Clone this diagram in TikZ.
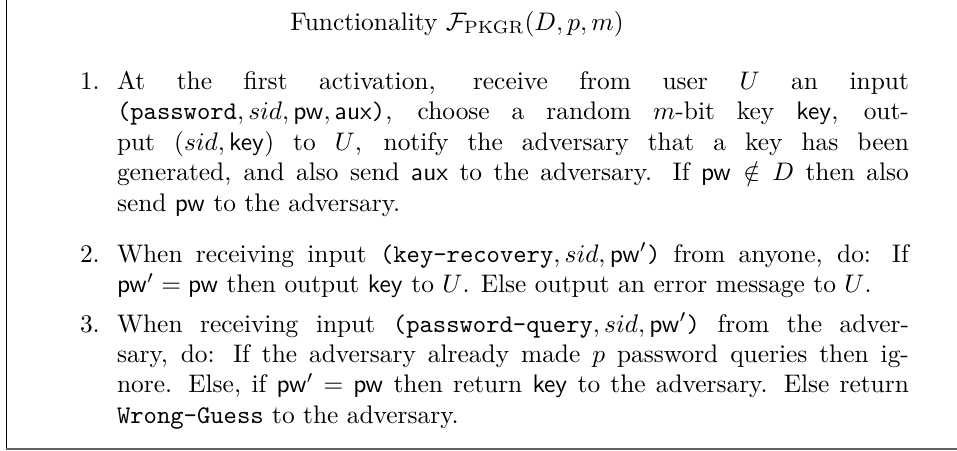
\documentclass[tikz,border=0pt]{standalone}
\begin{document}
\begin{tikzpicture}[x=0.3937pt,y=-0.3937pt,
  every node/.style={inner sep=0pt,outer sep=0pt,font=\fontsize{10}{12}\selectfont},
  itemtext/.style={anchor=base west,text width=311.8pt,align=justify},
  itemnum/.style={anchor=base west},
  frameline/.style={line width=0.45pt,black},
  baseline rule/.style={line width=1pt,black!62}]
\useasboundingbox (0,0) rectangle (957,450);
\coordinate (tl) at (6.5,0);
\coordinate (bl) at (6.5,450);
\coordinate (rl) at (6,449);
\coordinate (rr) at (957,449);
\draw[frameline] (tl) -- (bl);
\draw[baseline rule] (rl) -- (rr);

\node[anchor=base] (title) at (457,30) {Functionality $\mathcal{F}_{\mathrm{PKGR}}(D,p,m)$};

\node[itemnum] (n1) at (80,89.5) {1.};
\node[itemtext] (i1) at (117,89.5) {At the first activation, receive from user $U$ an input\linebreak
\texttt{(password}$,sid,\mathsf{pw},\mathsf{aux}$\texttt{)}, choose a random $m$-bit key $\mathsf{key}$, out-\linebreak
put $(sid,\mathsf{key})$ to $U$, notify the adversary that a key has been\linebreak
generated, and also send $\mathsf{aux}$ to the adversary. If $\mathsf{pw}\notin D$ then also\linebreak
send $\mathsf{pw}$ to the adversary.};

\node[itemnum] (n2) at (80,262) {2.};
\node[itemtext] (i2) at (117,262) {When receiving input \texttt{(key-recovery}$,sid,\mathsf{pw}'$\texttt{)} from anyone, do: If\linebreak
$\mathsf{pw}'=\mathsf{pw}$ then output $\mathsf{key}$ to $U$. Else output an error message to $U$.};

\node[itemnum] (n3) at (80,332) {3.};
\node[itemtext] (i3) at (117,332) {When receiving input \texttt{(password-query}$,sid,\mathsf{pw}'$\texttt{)} from the adver-\linebreak
sary, do: If the adversary already made $p$ password queries then ig-\linebreak
nore. Else, if $\mathsf{pw}'=\mathsf{pw}$ then return $\mathsf{key}$ to the adversary. Else return\linebreak
\texttt{Wrong-Guess} to the adversary.};
\end{tikzpicture}
\end{document}
